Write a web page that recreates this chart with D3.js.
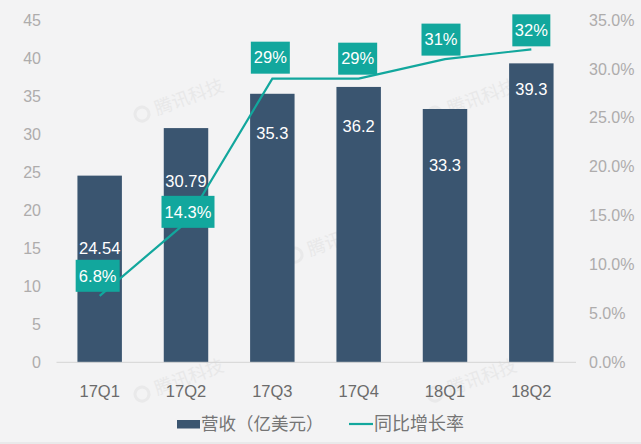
<!DOCTYPE html>
<html lang="zh">
<head>
<meta charset="UTF-8">
<title>营收</title>
<script src="https://cdn.jsdelivr.net/npm/d3@7/dist/d3.min.js"></script>
<style>
    html, body { margin: 0; padding: 0; background: #f3f3f4; }
    svg { display: block; }
    text { font-family: "Liberation Sans", Arial, sans-serif; }
    .cjk { font-family: "Noto Sans CJK SC", sans-serif; }
</style>
</head>
<body>
<script>
    var quarters = ["17Q1", "17Q2", "17Q3", "17Q4", "18Q1", "18Q2"];
    var revenue = [24.54, 30.79, 35.3, 36.2, 33.3, 39.3];
    var growth = [6.8, 14.3, 29, 29, 31, 32];
    var growthLabels = ["6.8%", "14.3%", "29%", "29%", "31%", "32%"];
    var revenueTicks = [0, 5, 10, 15, 20, 25, 30, 35, 40, 45];
    var growthTicks = [0, 5, 10, 15, 20, 25, 30, 35];

    var width = 641, height = 444;
    var plotLeft = 56.5, plotRight = 574.5, plotTop = 20, plotBottom = 362.3;

    // the labels were hand placed in the original, so nudge them one by one
    var revenueLabelDy = [73, 53, 39, 39, 56, 26];
    var growthBoxDy = [-20, -10.6, -21, -20, -19.5, -19];
    var growthBoxW = [44, 53, 39, 39, 39, 38];
    var growthBoxDx = [-2, 2, -2, -1, -4, 0];
    var boxH = 32;

    var svg = d3.select("body").append("svg")
        .attr("width", width)
        .attr("height", height);

    var x = d3.scaleBand().domain(quarters).range([plotLeft, plotRight]).paddingInner(0.485).paddingOuter(0.2425);
    var y = d3.scaleLinear().domain([0, 45]).range([plotBottom, plotTop]);
    var y2 = d3.scaleLinear().domain([0, 35]).range([plotBottom, plotTop]);
    var cx = function(q) { return x(q) + x.bandwidth() / 2; };

    svg.append("rect").attr("width", width).attr("height", height).attr("fill", "#f3f3f4");
    svg.append("rect").attr("x", 0).attr("y", 442).attr("width", width).attr("height", 2).attr("fill", "#e9e9ea");

    // watermarks
    [[189, 97], [482, 97], [342, 238], [189, 377], [482, 377]].forEach(function(p) {
        var g = svg.append("g").attr("transform", "translate(" + p[0] + "," + p[1] + ") rotate(-20)").attr("opacity", 0.45);
        g.append("circle").attr("cx", -50).attr("cy", 0).attr("r", 7).attr("fill", "none").attr("stroke", "#dedede").attr("stroke-width", 3);
        g.append("text").attr("class", "cjk").attr("text-anchor", "middle").attr("dy", "0.35em")
            .attr("font-size", 18).attr("fill", "#dcdcdc").text("腾讯科技");
    });

    // bars
    svg.selectAll(".bar").data(quarters).enter().append("rect")
        .attr("class", "bar")
        .attr("x", function(d) { return x(d); })
        .attr("y", function(d, i) { return y(revenue[i]); })
        .attr("width", x.bandwidth())
        .attr("height", function(d, i) { return plotBottom - y(revenue[i]); })
        .attr("fill", "#3a5570");

    // axes
    var axisLeft = d3.axisLeft(y).tickValues(revenueTicks).tickSize(0).tickPadding(0);
    var gl = svg.append("g").attr("transform", "translate(41,0)").call(axisLeft);
    gl.select(".domain").remove();
    gl.selectAll("text").attr("font-size", 16).attr("fill", "#aeacac").style("font-family", "'Liberation Sans'");

    var axisRight = d3.axisRight(y2).tickValues(growthTicks).tickSize(0).tickPadding(0)
        .tickFormat(function(d) { return d.toFixed(1) + "%"; });
    var gr = svg.append("g").attr("transform", "translate(589,0)").call(axisRight);
    gr.select(".domain").remove();
    gr.selectAll("text").attr("font-size", 16).attr("fill", "#aeacac").style("font-family", "'Liberation Sans'");

    var axisBottom = d3.axisBottom(x).tickSize(0).tickPadding(0);
    var gb = svg.append("g").attr("transform", "translate(0,385)").call(axisBottom);
    gb.select(".domain").remove();
    gb.selectAll("text").attr("font-size", 16.5).attr("fill", "#6b6b6b").style("font-family", "'Liberation Sans'");

    svg.append("line").attr("x1", plotLeft).attr("x2", 576).attr("y1", plotBottom).attr("y2", plotBottom)
        .attr("stroke", "#d4d4d4").attr("stroke-width", 1);

    // revenue labels
    svg.selectAll(".rev").data(quarters).enter().append("text")
        .attr("class", "rev")
        .attr("x", cx)
        .attr("y", function(d, i) { return y(revenue[i]) + revenueLabelDy[i]; })
        .attr("dy", "0.35em")
        .attr("text-anchor", "middle")
        .attr("font-size", 16.5)
        .attr("fill", "#fff")
        .text(function(d, i) { return revenue[i]; });

    // growth line
    var line = d3.line()
        .x(function(d, i) { return cx(quarters[i]); })
        .y(function(d) { return y2(d); });
    svg.append("path").datum(growth)
        .attr("d", line)
        .attr("fill", "none")
        .attr("stroke", "#12a79d")
        .attr("stroke-width", 2.2);

    // growth label boxes
    var box = svg.selectAll(".growth").data(quarters).enter().append("g").attr("class", "growth")
        .attr("transform", function(d, i) {
            return "translate(" + (cx(d) + growthBoxDx[i]) + "," + (y2(growth[i]) + growthBoxDy[i]) + ")";
        });
    box.append("rect")
        .attr("x", function(d, i) { return -growthBoxW[i] / 2; })
        .attr("y", -boxH / 2)
        .attr("width", function(d, i) { return growthBoxW[i]; })
        .attr("height", boxH)
        .attr("fill", "#12a79d");
    box.append("text")
        .attr("text-anchor", "middle")
        .attr("dy", "0.35em")
        .attr("font-size", 16.5)
        .attr("fill", "#fff")
        .text(function(d, i) { return growthLabels[i]; });

    // legend
    svg.append("rect").attr("x", 177).attr("y", 420).attr("width", 23).attr("height", 8.5).attr("fill", "#3a5570");
    svg.append("text").attr("class", "cjk").attr("x", 201).attr("y", 430)
        .attr("font-size", 17.5).attr("fill", "#757575").text("营收（亿美元）");
    svg.append("line").attr("x1", 349).attr("x2", 373).attr("y1", 424).attr("y2", 424)
        .attr("stroke", "#12a79d").attr("stroke-width", 2.2);
    svg.append("text").attr("class", "cjk").attr("x", 374).attr("y", 430)
        .attr("font-size", 18).attr("fill", "#757575").text("同比增长率");
</script>
</body>
</html>
